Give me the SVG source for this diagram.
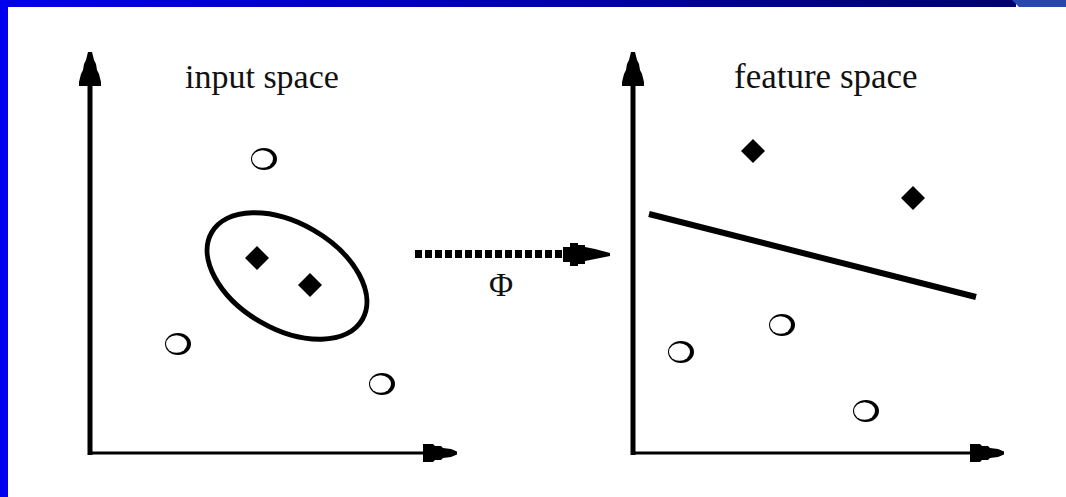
<svg xmlns="http://www.w3.org/2000/svg" width="1066" height="497" viewBox="0 0 1066 497">
  <defs>
    <linearGradient id="topbar" x1="0" y1="0" x2="1" y2="0">
      <stop offset="0" stop-color="#0000e8"/>
      <stop offset="1" stop-color="#000070"/>
    </linearGradient>
    <g id="circ">
      <ellipse cx="0" cy="0" rx="13" ry="11" fill="#000"/>
      <ellipse cx="-1.5" cy="0" rx="10.5" ry="8.8" fill="#fff"/>
    </g>
    <polygon id="dia" points="0,-12 12,0 0,12 -12,0" fill="#000"/>
    <polygon id="upHead" points="-2,0 2,0 4,8 6,12 7,18 9,22 11,30 11,34 -11,34 -11,30 -9,22 -7,18 -6,12 -4,8" fill="#000"/>
    <polygon id="rightHead" points="0,-9 10,-9 12,-7 18,-7 20,-5 28,-4 34,-1.5 34,1.5 28,4 20,5 18,7 12,7 10,9 0,9" fill="#000"/>
  </defs>
  <style>
    .lbl { font-family: "Liberation Serif", "Times New Roman", serif; fill: #111; }
    .axisV { stroke: #000; stroke-width: 5; fill: none; }
    .axisH { stroke: #000; stroke-width: 3; fill: none; }
  </style>
  <rect x="0" y="0" width="1066" height="497" fill="#fff"/>
  <!-- frame -->
  <rect x="0" y="0" width="1016" height="7" fill="url(#topbar)"/>
  <polygon points="1012,0 1066,0 1066,7 1019,7" fill="#2746b0"/>
  <rect x="0" y="0" width="8" height="497" fill="#0000f0"/>

  <!-- input space axes -->
  <g id="input-axes">
    <line class="axisV" x1="90" y1="455" x2="90" y2="70"/>
    <use href="#upHead" x="90" y="52"/>
    <line class="axisH" x1="88" y1="453" x2="430" y2="453"/>
    <use href="#rightHead" x="423" y="453"/>
  </g>
  <g id="feature-axes">
    <line class="axisV" x1="633" y1="455" x2="633" y2="70"/>
    <use href="#upHead" x="633" y="52"/>
    <line class="axisH" x1="631" y1="453" x2="975" y2="453"/>
    <use href="#rightHead" x="970" y="453"/>
  </g>

  <g id="label-input"><text class="lbl" x="185" y="88" font-size="34">input space</text></g>
  <g id="label-feature"><text class="lbl" x="734" y="88" font-size="35">feature space</text></g>

  <!-- input space points -->
  <g id="in-circle-1"><use href="#circ" x="264" y="159"/></g>
  <g id="in-circle-2"><use href="#circ" x="178" y="344"/></g>
  <g id="in-circle-3"><use href="#circ" x="382" y="384"/></g>
  <g id="in-diamond-1"><use href="#dia" x="257" y="258"/></g>
  <g id="in-diamond-2"><use href="#dia" x="310" y="285"/></g>
  <g id="in-ellipse"><ellipse cx="287" cy="276" rx="87" ry="53" transform="rotate(30 287 276)" fill="none" stroke="#000" stroke-width="5"/></g>

  <!-- feature space points -->
  <g id="fs-diamond-1"><use href="#dia" x="753" y="151"/></g>
  <g id="fs-diamond-2"><use href="#dia" x="913" y="198"/></g>
  <g id="fs-circle-1"><use href="#circ" x="782" y="325"/></g>
  <g id="fs-circle-2"><use href="#circ" x="681" y="352"/></g>
  <g id="fs-circle-3"><use href="#circ" x="866" y="411"/></g>
  <g id="fs-separator"><line x1="649" y1="214" x2="976" y2="297" stroke="#000" stroke-width="6"/></g>

  <!-- mapping connector -->
  <g id="connectors">
    <line x1="415" y1="254" x2="565" y2="254" stroke="#000" stroke-width="8" stroke-dasharray="7 3"/>
    <polygon points="563,247 570,247 570,243 578,243 578,245 585,245 585,247 595,249 610,253 610,256 595,259 585,261 585,264 578,264 578,266 570,266 570,262 563,262" fill="#000"/>
    <text class="lbl" x="501" y="296" font-size="33" text-anchor="middle">Φ</text>
  </g>
</svg>
